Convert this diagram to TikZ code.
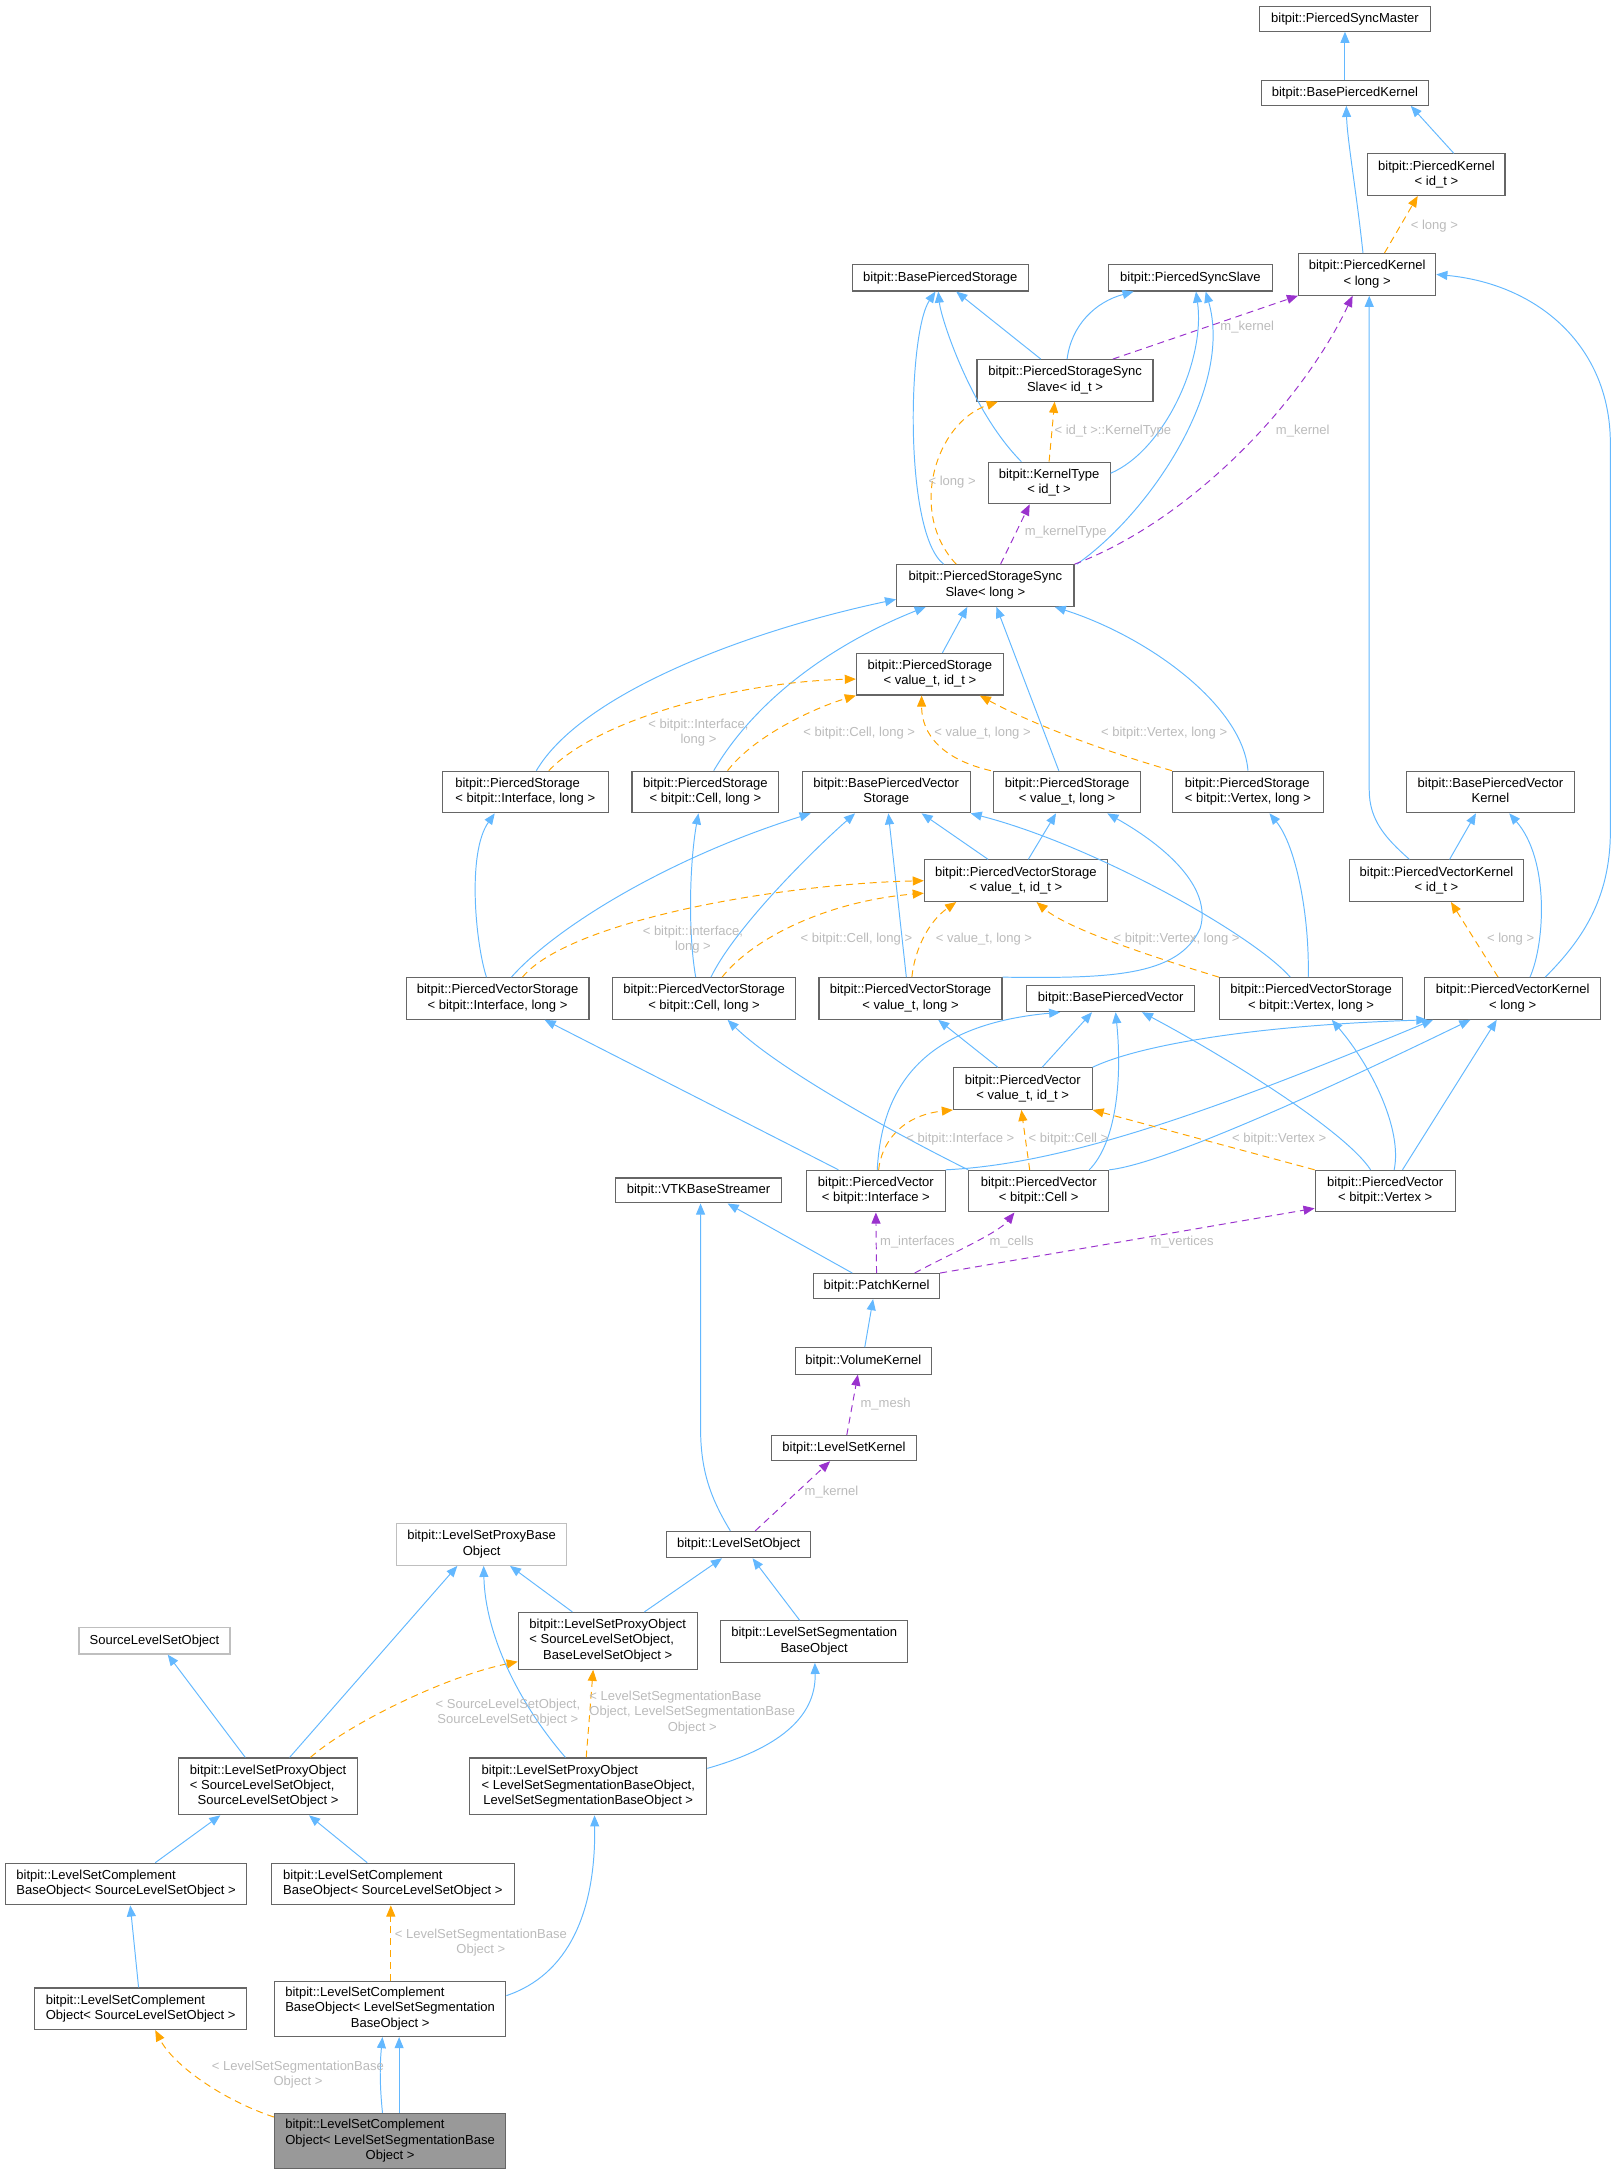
\documentclass[tikz,border=0pt]{standalone}
\usepackage{fontspec}
\setmainfont{Liberation Sans}
\usetikzlibrary{arrows.meta}
\definecolor{nodeborder}{HTML}{666666}
\definecolor{lightborder}{HTML}{BFBFBF}
\definecolor{finalfill}{HTML}{999999}
\definecolor{eblue}{HTML}{63B8FF}
\definecolor{eorange}{HTML}{FFA500}
\definecolor{epurple}{HTML}{9A32CD}
\definecolor{lgray}{HTML}{BBBBBB}
\newcommand\dxtwo[2]{\begin{tabular}{@{}l@{}}#1\\\multicolumn{1}{@{}c@{}}{#2}\end{tabular}}
\newcommand\dxthree[3]{\begin{tabular}{@{}l@{}}#1\\#2\\\multicolumn{1}{@{}c@{}}{#3}\end{tabular}}
\tikzset{
  cls/.style={rectangle, draw=nodeborder, fill=white, line width=0.8pt, inner sep=0pt, font=\fontsize{9.4}{11}\selectfont},
  clslight/.style={cls, draw=lightborder},
  sz/.style 2 args={minimum width=#1pt, minimum height=#2pt},
  einh/.style={draw=eblue, line width=0.7pt, -{Triangle[length=8pt,width=6.5pt]}},
  etpl/.style={draw=eorange, line width=0.7pt, dash pattern=on 5pt off 3.5pt, -{Triangle[length=8pt,width=6.5pt]}},
  euse/.style={draw=epurple, line width=0.7pt, dash pattern=on 5pt off 3.5pt, -{Triangle[length=8pt,width=6.5pt]}},
  elbl/.style={text=lgray, font=\fontsize{9.4}{11}\selectfont, inner sep=0pt, align=center}
}
\begin{document}
\begin{tikzpicture}[x=1pt,y=-1pt]
\useasboundingbox (0,0) rectangle (1167,1568);
% nodes
\node[cls,sz={124}{18}] (master) at (970.5,13.5) {bitpit::PiercedSyncMaster};
\node[cls,sz={121}{18}] (bpk) at (970.5,67) {bitpit::BasePiercedKernel};
\node[cls,sz={99}{30}] (pkid) at (1036.5,126) {\dxtwo{bitpit::PiercedKernel}{< id\_t >}};
\node[cls,sz={99}{30}] (pklong) at (986.5,198) {\dxtwo{bitpit::PiercedKernel}{< long >}};
\node[cls,sz={127}{19}] (bps) at (678.5,200.5) {bitpit::BasePiercedStorage};
\node[cls,sz={118}{19}] (pss) at (859,200.5) {bitpit::PiercedSyncSlave};
\node[cls,sz={127}{30}] (psssid) at (768.5,274.5) {\dxtwo{bitpit::PiercedStorageSync}{Slave< id\_t >}};
\node[cls,sz={88}{30}] (ktid) at (757,348.5) {\dxtwo{bitpit::KernelType}{< id\_t >}};
\node[cls,sz={128}{30}] (psslong) at (711,422.5) {\dxtwo{bitpit::PiercedStorageSync}{Slave< long >}};
\node[cls,sz={106}{30}] (psvid) at (671,486.5) {\dxtwo{bitpit::PiercedStorage}{< value\_t, id\_t >}};
\node[cls,sz={120}{30}] (psint) at (379,571.5) {\dxtwo{bitpit::PiercedStorage}{< bitpit::Interface, long >}};
\node[cls,sz={106}{30}] (pscell) at (509,571.5) {\dxtwo{bitpit::PiercedStorage}{< bitpit::Cell, long >}};
\node[cls,sz={121}{30}] (bpvs) at (639.5,571.5) {\dxtwo{bitpit::BasePiercedVector}{Storage}};
\node[cls,sz={106}{30}] (psvlong) at (770,571.5) {\dxtwo{bitpit::PiercedStorage}{< value\_t, long >}};
\node[cls,sz={109}{30}] (psvert) at (900.5,571.5) {\dxtwo{bitpit::PiercedStorage}{< bitpit::Vertex, long >}};
\node[cls,sz={121}{30}] (bpvk) at (1075.5,571.5) {\dxtwo{bitpit::BasePiercedVector}{Kernel}};
\node[cls,sz={132}{30}] (pvsvid) at (733,635.5) {\dxtwo{bitpit::PiercedVectorStorage}{< value\_t, id\_t >}};
\node[cls,sz={125}{30}] (pvkid) at (1036.5,635.5) {\dxtwo{bitpit::PiercedVectorKernel}{< id\_t >}};
\node[cls,sz={132}{30}] (pvsint) at (359,720.5) {\dxtwo{bitpit::PiercedVectorStorage}{< bitpit::Interface, long >}};
\node[cls,sz={132}{30}] (pvscell) at (508,720.5) {\dxtwo{bitpit::PiercedVectorStorage}{< bitpit::Cell, long >}};
\node[cls,sz={132}{30}] (pvsvlong) at (657,720.5) {\dxtwo{bitpit::PiercedVectorStorage}{< value\_t, long >}};
\node[cls,sz={121}{19}] (bpv) at (801.5,720.5) {bitpit::BasePiercedVector};
\node[cls,sz={132}{30}] (pvsvert) at (946,720.5) {\dxtwo{bitpit::PiercedVectorStorage}{< bitpit::Vertex, long >}};
\node[cls,sz={127}{30}] (pvklong) at (1091.5,720.5) {\dxtwo{bitpit::PiercedVectorKernel}{< long >}};
\node[cls,sz={100}{30}] (pvvid) at (738,785.5) {\dxtwo{bitpit::PiercedVector}{< value\_t, id\_t >}};
\node[cls,sz={120}{18}] (vtk) at (504,859) {bitpit::VTKBaseStreamer};
\node[cls,sz={100}{30}] (pvint) at (632,859.5) {\dxtwo{bitpit::PiercedVector}{< bitpit::Interface >}};
\node[cls,sz={101}{30}] (pvcell) at (749.5,859.5) {\dxtwo{bitpit::PiercedVector}{< bitpit::Cell >}};
\node[cls,sz={101}{30}] (pvvert) at (999.5,859.5) {\dxtwo{bitpit::PiercedVector}{< bitpit::Vertex >}};
\node[cls,sz={91}{18}] (patch) at (632.5,928) {bitpit::PatchKernel};
\node[cls,sz={98}{19}] (volume) at (623,982) {bitpit::VolumeKernel};
\node[cls,sz={104}{18}] (lskernel) at (609,1045) {bitpit::LevelSetKernel};
\node[clslight,sz={123}{30}] (lspbo) at (347.5,1114.5) {\dxtwo{bitpit::LevelSetProxyBase}{Object}};
\node[cls,sz={104}{19}] (lsobj) at (533,1114.5) {bitpit::LevelSetObject};
\node[clslight,sz={109}{19}] (srclso) at (111.5,1184) {SourceLevelSetObject};
\node[cls,sz={129}{41}] (lspoSB) at (438.5,1184) {\dxthree{bitpit::LevelSetProxyObject}{< SourceLevelSetObject,}{BaseLevelSetObject >}};
\node[cls,sz={135}{30}] (lssegbase) at (587.5,1184.5) {\dxtwo{bitpit::LevelSetSegmentation}{BaseObject}};
\node[cls,sz={129}{41}] (lspoSS) at (193.5,1289) {\dxthree{bitpit::LevelSetProxyObject}{< SourceLevelSetObject,}{SourceLevelSetObject >}};
\node[cls,sz={171}{41}] (lspoGG) at (424.5,1289) {\dxthree{bitpit::LevelSetProxyObject}{< LevelSetSegmentationBaseObject,}{LevelSetSegmentationBaseObject >}};
\node[cls,sz={174}{30}] (lscbL) at (91,1359.5) {\dxtwo{bitpit::LevelSetComplement}{BaseObject< SourceLevelSetObject >}};
\node[cls,sz={175}{30}] (lscbR) at (283.5,1359.5) {\dxtwo{bitpit::LevelSetComplement}{BaseObject< SourceLevelSetObject >}};
\node[cls,sz={153}{30}] (lscoS) at (101.5,1449.5) {\dxtwo{bitpit::LevelSetComplement}{Object< SourceLevelSetObject >}};
\node[cls,sz={167}{40}] (lscbG) at (281.5,1449.5) {\dxthree{bitpit::LevelSetComplement}{BaseObject< LevelSetSegmentation}{BaseObject >}};
\node[cls,sz={167}{40},fill=finalfill] (final) at (281.5,1545) {\dxthree{bitpit::LevelSetComplement}{Object< LevelSetSegmentationBase}{Object >}};
% edges
\draw[einh] (bpk) -- (master);
\draw[einh] ([xshift=12.5pt]pkid.north) -- ([xshift=47.5pt]bpk.south);
\draw[einh] ([xshift=-3pt]pklong.north) .. controls (979,140) and (972,100) .. ([xshift=1pt]bpk.south);
\draw[etpl] ([xshift=12.5pt]pklong.north) -- ([xshift=-13.5pt]pkid.south);
\draw[einh] ([xshift=23.5pt]pvklong.north) .. controls (1140,680) and (1162,650) .. (1162,600) -- (1162,320) .. controls (1162,250) and (1110,205) .. (pklong.east);
\draw[einh] ([xshift=-19.5pt]pvkid.north) .. controls (1000,605) and (988,592) .. (988,570) -- ([xshift=1.5pt]pklong.south);
\draw[einh] ([xshift=-17.5pt]psssid.north) -- ([xshift=11.5pt]bps.south);
\draw[einh] ([xshift=1.5pt]psssid.north) .. controls (773,235) and (790,218) .. ([xshift=-41pt]pss.south);
\draw[euse] ([xshift=34.5pt]psssid.north) -- (pklong.south west);
\draw[etpl] (ktid.north) -- ([xshift=-7.5pt]psssid.south);
\draw[einh] ([xshift=-20pt]ktid.north) .. controls (701,297) and (679,230) .. ([xshift=-1.5pt]bps.south);
\draw[einh] ([xshift=-30pt]psslong.north) .. controls (652,385) and (655,240) .. ([xshift=-3.5pt]bps.south);
\draw[einh] ([yshift=7pt]ktid.east) .. controls (840,325) and (870,260) .. ([xshift=4pt]pss.south);
\draw[einh] ([xshift=66pt]psslong.north) .. controls (830,370) and (890,280) .. ([xshift=11pt]pss.south);
\draw[euse] (psslong.north east) .. controls (860,375) and (940,290) .. ([xshift=-10.5pt]pklong.south);
\draw[euse] ([xshift=11pt]psslong.north) -- ([xshift=-14pt]ktid.south);
\draw[etpl] ([xshift=-21pt]psslong.north) .. controls (655,370) and (675,305) .. ([xshift=-48.5pt]psssid.south);
\draw[einh] ([xshift=9pt]psvid.north) -- ([xshift=-13pt]psslong.south);
\draw[einh] ([xshift=8pt]psint.north) .. controls (420,500) and (540,455) .. ([yshift=-10pt]psslong.west);
\draw[einh] ([xshift=6pt]pscell.north) .. controls (545,505) and (600,465) .. ([xshift=-43pt]psslong.south);
\draw[einh] ([xshift=-6pt]psvlong.north) -- ([xshift=8pt]psslong.south);
\draw[einh] (psvert.north) .. controls (897,510) and (830,460) .. ([xshift=50pt]psslong.south);
\draw[etpl] ([xshift=17pt]psint.north) .. controls (430,520) and (530,492) .. ([yshift=-3.5pt]psvid.west);
\draw[etpl] ([xshift=16pt]pscell.north) .. controls (545,530) and (590,510) .. (psvid.south west);
\draw[etpl] ([xshift=-55pt]psvlong.north) .. controls (680,548) and (665,530) .. ([xshift=-6pt]psvid.south);
\draw[etpl] (psvert.north west) .. controls (790,540) and (740,520) .. ([xshift=36pt]psvid.south);
\draw[einh] ([xshift=-20pt]pvsvid.north) -- ([xshift=25.5pt]bpvs.south);
\draw[einh] ([xshift=9pt]pvsvid.north) -- ([xshift=-8pt]psvlong.south);
\draw[einh] ([xshift=-8pt]pvsint.north) .. controls (343,680) and (337,615) .. ([xshift=-22pt]psint.south);
\draw[einh] ([xshift=10pt]pvsint.north) .. controls (400,670) and (480,620) .. ([xshift=-54.5pt]bpvs.south);
\draw[einh] ([xshift=-6pt]pvscell.north) .. controls (496,670) and (498,620) .. ([xshift=-5pt]pscell.south);
\draw[einh] ([xshift=5pt]pvscell.north) .. controls (530,670) and (585,615) .. ([xshift=-22.5pt]bpvs.south);
\draw[einh] ([xshift=-3pt]pvsvlong.north) -- ([xshift=1.5pt]bpvs.south);
\draw[einh] (pvsvlong.north east) .. controls (800,706) and (850,705) .. (866,670) .. controls (875,640) and (840,610) .. ([xshift=29pt]psvlong.south);
\draw[einh] ([xshift=-15pt]pvsvert.north) .. controls (905,675) and (790,610) .. (bpvs.south east);
\draw[einh] ([xshift=-2pt]pvsvert.north) .. controls (945,660) and (935,610) .. ([xshift=15.5pt]psvert.south);
\draw[etpl] ([xshift=18pt]pvsint.north) .. controls (410,665) and (560,638) .. (pvsvid.west);
\draw[etpl] ([xshift=13pt]pvscell.north) .. controls (545,675) and (600,650) .. ([yshift=-9pt]pvsvid.west);
\draw[etpl] ([xshift=1pt]pvsvlong.north) .. controls (660,685) and (670,665) .. ([xshift=-43pt]pvsvid.south);
\draw[etpl] (pvsvert.north west) .. controls (830,690) and (770,670) .. ([xshift=15pt]pvsvid.south);
\draw[einh] ([xshift=9.5pt]pvkid.north) -- ([xshift=-10.5pt]bpvk.south);
\draw[einh] ([xshift=12.5pt]pvklong.north) .. controls (1115,680) and (1118,620) .. ([xshift=13.5pt]bpvk.south);
\draw[etpl] ([xshift=-10.5pt]pvklong.north) -- ([xshift=10.5pt]pvkid.south);
\draw[einh] ([xshift=-18pt]pvvid.north) -- ([xshift=20pt]pvsvlong.south);
\draw[einh] ([xshift=14pt]pvvid.north) -- ([xshift=-13.5pt]bpv.south);
\draw[einh] (pvvid.north east) .. controls (820,755) and (900,740) .. ([xshift=-61.5pt]pvklong.south);
\draw[einh] ([xshift=-27pt]pvint.north) -- ([xshift=34pt]pvsint.south);
\draw[einh] ([xshift=1pt]pvint.north) .. controls (636,790) and (660,740) .. ([xshift=-36.5pt]bpv.south);
\draw[einh] (pvint.north east) .. controls (770,840) and (880,800) .. ([xshift=-57.5pt]pvklong.south);
\draw[etpl] ([xshift=2pt]pvint.north) .. controls (636,825) and (650,805) .. (pvvid.south west);
\draw[einh] (pvcell.north west) .. controls (640,815) and (560,770) .. ([xshift=17pt]pvscell.south);
\draw[einh] ([xshift=36.5pt]pvcell.north) .. controls (805,825) and (810,780) .. ([xshift=3.5pt]bpv.south);
\draw[einh] (pvcell.north east) .. controls (840,840) and (960,785) .. ([xshift=-30.5pt]pvklong.south);
\draw[etpl] ([xshift=-6.5pt]pvcell.north) -- ([xshift=-1pt]pvvid.south);
\draw[einh] ([xshift=-10.5pt]pvvert.north) .. controls (970,815) and (880,760) .. ([xshift=22.5pt]bpv.south);
\draw[einh] ([xshift=6.5pt]pvvert.north) .. controls (1012,815) and (990,770) .. ([xshift=15pt]pvsvert.south);
\draw[einh] ([xshift=12.5pt]pvvert.north) -- ([xshift=-11.5pt]pvklong.south);
\draw[etpl] (pvvert.north west) -- (pvvid.south east);
\draw[einh] ([xshift=-17.5pt]patch.north) -- ([xshift=21pt]vtk.south);
\draw[euse] (patch.north) -- (pvint.south);
\draw[euse] ([xshift=27.5pt]patch.north) .. controls (685,905) and (720,890) .. ([xshift=-17.5pt]pvcell.south);
\draw[euse] (patch.north east) -- ([yshift=3pt]pvvert.south west);
\draw[einh] ([xshift=1pt]volume.north) -- ([xshift=-2.5pt]patch.south);
\draw[euse] ([xshift=2pt]lskernel.north) -- ([xshift=-4pt]volume.south);
\draw[euse] ([xshift=12pt]lsobj.north) -- ([xshift=-10pt]lskernel.south);
\draw[einh] ([xshift=-6pt]lsobj.north) .. controls (512,1080) and (505.5,1060) .. (505.5,1030) -- ([xshift=1.5pt]vtk.south);
\draw[einh] ([xshift=-25.5pt]lspoSB.north) -- ([xshift=20.5pt]lspbo.south);
\draw[einh] ([xshift=26.5pt]lspoSB.north) -- ([xshift=-12pt]lsobj.south);
\draw[einh] ([xshift=-10.5pt]lssegbase.north) -- ([xshift=10pt]lsobj.south);
\draw[einh] ([xshift=15.5pt]lspoSS.north) -- ([xshift=-17.5pt]lspbo.south);
\draw[einh] ([xshift=-16.5pt]lspoSS.north) -- ([xshift=9.5pt]srclso.south);
\draw[etpl] ([xshift=30.5pt]lspoSS.north) .. controls (250,1245) and (320,1210) .. ([yshift=-15pt]lspoSB.west);
\draw[einh] ([xshift=-16.5pt]lspoGG.north) .. controls (375,1230) and (350,1180) .. ([xshift=1.5pt]lspbo.south);
\draw[etpl] ([xshift=-1.5pt]lspoGG.north) -- ([xshift=-10.5pt]lspoSB.south);
\draw[einh] ([yshift=13pt]lspoGG.east) .. controls (560,1262) and (589,1240) .. ([xshift=0.5pt]lssegbase.south);
\draw[einh] ([xshift=21pt]lscbL.north) -- ([xshift=-34.5pt]lspoSS.south);
\draw[einh] ([xshift=-18.5pt]lscbR.north) -- ([xshift=29.5pt]lspoSS.south);
\draw[einh] ([xshift=-1.5pt]lscoS.north) -- ([xshift=3pt]lscbL.south);
\draw[etpl] ([xshift=0.5pt]lscbG.north) -- ([xshift=-1.5pt]lscbR.south);
\draw[einh] ([yshift=9.5pt]lscbG.east) .. controls (410,1425) and (430,1380) .. ([xshift=4.5pt]lspoGG.south);
\draw[einh] ([xshift=-5.5pt]final.north) .. controls (274,1505) and (274,1490) .. ([xshift=-5.5pt]lscbG.south);
\draw[einh] ([xshift=6.5pt]final.north) -- ([xshift=6.5pt]lscbG.south);
\draw[etpl] ([yshift=-3pt]final.north west) .. controls (160,1515) and (125,1490) .. ([xshift=10.5pt]lscoS.south);
% labels
\node[elbl] (l1) at (1035,163) {< long >};
\node[elbl] (l2) at (900,236) {m\_kernel};
\node[elbl] (l3) at (803,311) {< id\_t >::KernelType};
\node[elbl] (l4) at (940,311) {m\_kernel};
\node[elbl] (l5) at (769,384) {m\_kernelType};
\node[elbl] (l6) at (687,348) {< long >};
\node[elbl] (l7) at (504,528.5) {< bitpit::Interface,\\long >};
\node[elbl] (l8) at (620,529) {< bitpit::Cell, long >};
\node[elbl] (l9) at (709,529) {< value\_t, long >};
\node[elbl] (l10) at (840,529) {< bitpit::Vertex, long >};
\node[elbl] (l11) at (500,678) {< bitpit::Interface,\\long >};
\node[elbl] (l12) at (618,678) {< bitpit::Cell, long >};
\node[elbl] (l13) at (710,678) {< value\_t, long >};
\node[elbl] (l14) at (849,678) {< bitpit::Vertex, long >};
\node[elbl] (l15) at (1090,678) {< long >};
\node[elbl] (l16) at (693,822) {< bitpit::Interface >};
\node[elbl] (l17) at (771,822) {< bitpit::Cell >};
\node[elbl] (l18) at (923,822) {< bitpit::Vertex >};
\node[elbl] (l19) at (662,896) {m\_interfaces};
\node[elbl] (l20) at (730,896) {m\_cells};
\node[elbl] (l21) at (853,896) {m\_vertices};
\node[elbl] (l22) at (639,1013) {m\_mesh};
\node[elbl] (l23) at (600,1077) {m\_kernel};
\node[elbl] (l24) at (366.5,1236) {< SourceLevelSetObject,\\SourceLevelSetObject >};
\node[elbl] (l25) at (499.5,1236) {\dxthree{< LevelSetSegmentationBase}{Object, LevelSetSegmentationBase}{Object >}};
\node[elbl] (l26) at (347,1402) {< LevelSetSegmentationBase\\Object >};
\node[elbl] (l27) at (215,1497) {< LevelSetSegmentationBase\\Object >};
\end{tikzpicture}
\end{document}
